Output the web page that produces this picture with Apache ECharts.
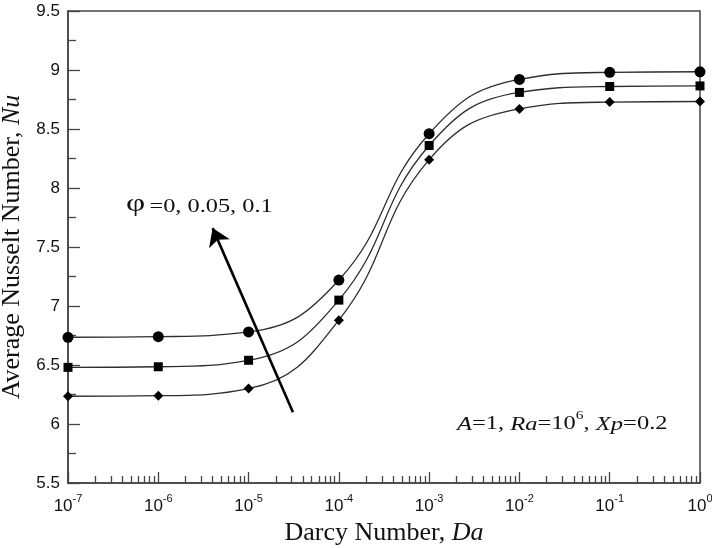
<!DOCTYPE html>
<html>
<head>
<meta charset="utf-8">
<script src="https://cdn.jsdelivr.net/npm/echarts@6/dist/echarts.min.js"></script>
<style>html,body{margin:0;padding:0;background:#fff;}#c{width:712px;height:548px;}</style>
</head>
<body>
<div id="c"></div>
<script>
// Darcy numbers (x) and Average Nusselt numbers for each nanoparticle fraction
const darcy = [1e-7, 1e-6, 1e-5, 1e-4, 1e-3, 1e-2, 1e-1, 1];
const nuPhi0   = [6.735, 6.74, 6.78, 7.22, 8.46, 8.92, 8.98, 8.985];
const nuPhi005 = [6.48, 6.485, 6.54, 7.05, 8.36, 8.81, 8.86, 8.865];
const nuPhi01  = [6.235, 6.24, 6.30, 6.88, 8.24, 8.67, 8.728, 8.733];

// axis settings
const yTicks = [5.5, 6, 6.5, 7, 7.5, 8, 8.5, 9, 9.5];
const xDecadeExponents = [-7, -6, -5, -4, -3, -2, -1, 0];
const minorMultipliers = [2, 3, 4, 5, 6, 7, 8, 9];

// annotation arrow (data coordinates): tail -> head
const arrowTail = [3.1e-5, 6.10];
const arrowHead = [4.0e-6, 7.66];

const minorXTicks = [];
xDecadeExponents.slice(0, -1).forEach(e => {
  minorMultipliers.forEach(m => minorXTicks.push(m * Math.pow(10, e)));
});

const pair = arr => darcy.map((d, i) => [d, arr[i]]);

const lineColor = '#2e2e2e';
const axisColor = '#444';

const chart = echarts.init(document.getElementById('c'), null, {renderer: 'canvas'});

const seriesBase = {
  type: 'line',
  smooth: 0.45,
  lineStyle: {color: lineColor, width: 1.3},
  itemStyle: {color: '#000'},
  xAxisIndex: 0,
  yAxisIndex: 0,
  z: 3
};

chart.setOption({
  animation: false,
  backgroundColor: '#fff',
  grid: {
    left: 68, right: 12, top: 11, bottom: 65,
    outerBoundsMode: 'none',
    containLabel: false,
    show: true, borderColor: axisColor, borderWidth: 1.5, backgroundColor: 'transparent'
  },
  xAxis: [{
    type: 'log',
    logBase: 10,
    min: 1e-7,
    max: 1,
    interval: 1,
    name: '{n|Darcy Number, }{i|Da}',
    nameLocation: 'middle',
    nameGap: 33,
    nameTextStyle: {
      rich: {
        n: {fontFamily: 'Liberation Serif', fontSize: 26, color: '#111'},
        i: {fontFamily: 'Liberation Serif', fontSize: 26, fontStyle: 'italic', color: '#111'}
      }
    },
    axisLine: {show: true, lineStyle: {color: axisColor, width: 1.5}},
    axisTick: {show: true, inside: true, length: 11, lineStyle: {color: axisColor, width: 1.3}},
    splitLine: {show: false},
    axisLabel: {
      margin: 10,
      formatter: v => '{b|10}{s|' + Math.round(Math.log10(v)) + '}',
      rich: {
        b: {fontFamily: 'Liberation Sans', fontSize: 17, color: '#111', verticalAlign: 'bottom', lineHeight: 22},
        s: {fontFamily: 'Liberation Sans', fontSize: 11, color: '#111', verticalAlign: 'top', lineHeight: 22}
      }
    }
  }, {
    type: 'log',
    logBase: 10,
    min: 1e-7,
    max: 1,
    position: 'bottom',
    axisLine: {show: false},
    axisLabel: {show: false},
    splitLine: {show: false},
    axisTick: {show: true, inside: true, length: 7, customValues: minorXTicks, lineStyle: {color: axisColor, width: 1.3}}
  }],
  yAxis: {
    type: 'value',
    min: yTicks[0],
    max: yTicks[yTicks.length - 1],
    interval: 0.5,
    name: '{n|Average Nusselt Number, }{i|Nu}',
    nameLocation: 'middle',
    nameRotate: 90,
    nameGap: 36,
    nameTextStyle: {
      rich: {
        n: {fontFamily: 'Liberation Serif', fontSize: 26, color: '#111'},
        i: {fontFamily: 'Liberation Serif', fontSize: 26, fontStyle: 'italic', color: '#111'}
      }
    },
    axisLine: {show: true, lineStyle: {color: axisColor, width: 1.5}},
    axisTick: {show: true, inside: true, length: 12, lineStyle: {color: axisColor, width: 1.3}},
    minorTick: {show: true, splitNumber: 2, length: 8, lineStyle: {color: axisColor, width: 1.3}},
    splitLine: {show: false},
    axisLabel: {
      margin: 8,
      fontFamily: 'Liberation Sans', fontSize: 17, color: '#111',
      formatter: v => String(v)
    }
  },
  series: [
    Object.assign({}, seriesBase, {
      name: 'φ=0', data: pair(nuPhi0), symbol: 'circle', symbolSize: 11,
      markLine: {
        silent: true,
        symbol: ['none', 'arrow'],
        symbolSize: 17,
        label: {show: false},
        lineStyle: {color: '#000', width: 2.6, type: 'solid'},
        data: [[{coord: arrowTail}, {coord: arrowHead}]]
      }
    }),
    Object.assign({}, seriesBase, {name: 'φ=0.05', data: pair(nuPhi005), symbol: 'rect', symbolSize: 9}),
    Object.assign({}, seriesBase, {name: 'φ=0.1', data: pair(nuPhi01), symbol: 'diamond', symbolSize: 10})
  ],
  graphic: [{
    type: 'text',
    left: 126,
    top: 191,
    scaleX: 1.28,
    style: {
      text: '{p|φ} {n|=0, 0.05, 0.1}',
      rich: {
        p: {fontFamily: 'Liberation Serif', fontSize: 26, fill: '#111', verticalAlign: 'bottom', lineHeight: 28},
        n: {fontFamily: 'Liberation Serif', fontSize: 19, fill: '#111', verticalAlign: 'bottom', lineHeight: 28}
      }
    }
  }, {
    type: 'text',
    left: 457,
    top: 410,
    scaleX: 1.29,
    style: {
      text: '{i|A}{n|=1, }{i|Ra}{n|=10}{s|6}{n|, }{i|Xp}{n|=0.2}',
      rich: {
        i: {fontFamily: 'Liberation Serif', fontSize: 19, fontStyle: 'italic', fill: '#111', verticalAlign: 'bottom', lineHeight: 24},
        n: {fontFamily: 'Liberation Serif', fontSize: 19, fill: '#111', verticalAlign: 'bottom', lineHeight: 24},
        s: {fontFamily: 'Liberation Serif', fontSize: 12, fill: '#111', verticalAlign: 'top', lineHeight: 24}
      }
    }
  }]
});
</script>
</body>
</html>
